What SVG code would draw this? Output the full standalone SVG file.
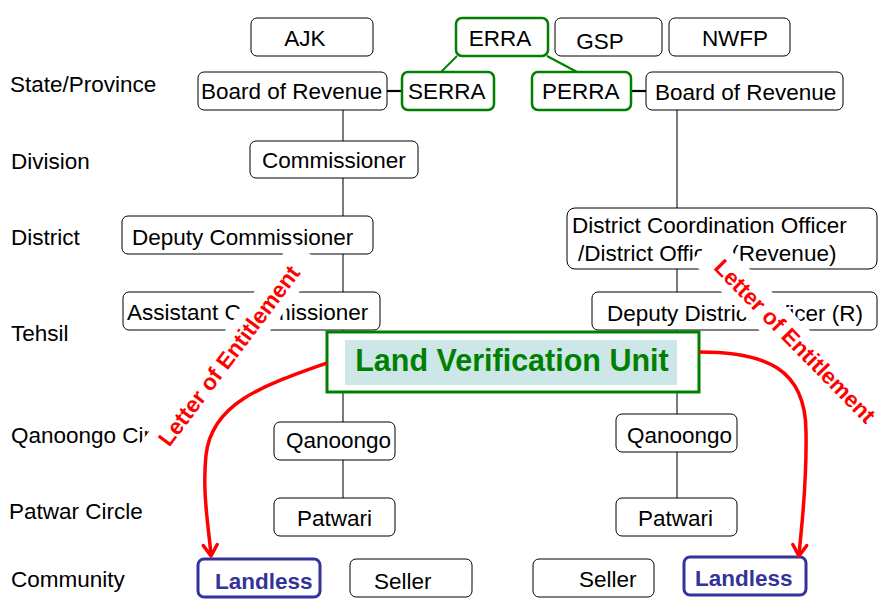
<svg xmlns="http://www.w3.org/2000/svg" width="883" height="603" viewBox="0 0 883 603">
  <defs>
    <style>
      .lvl { font-family: "Liberation Sans", Arial, sans-serif; font-size: 22.5px; fill: #000; }
      .box { fill: #fff; stroke: #000; stroke-width: 1; }
      .gbox { fill: #fff; stroke: #008000; stroke-width: 2.5; }
      .bbox { fill: #fff; stroke: #333399; stroke-width: 3; }
      .t { font-family: "Liberation Sans", Arial, sans-serif; font-size: 22.5px; fill: #000; }
      .tb { font-family: "Liberation Sans", Arial, sans-serif; font-size: 22.5px; font-weight: bold; fill: #333399; }
      .link { stroke: #222; stroke-width: 1.2; fill: none; }
      .tie { stroke: #000; stroke-width: 2.2; fill: none; }
      .gtie { stroke: #008000; stroke-width: 2; fill: none; }
      .red { stroke: #ff0000; stroke-width: 3.5; fill: none; }
      .loe { font-family: "Liberation Sans", Arial, sans-serif; font-size: 22.5px; font-weight: bold; fill: #ff0000; }
    </style>
    <marker id="vhead" markerUnits="userSpaceOnUse" markerWidth="30" markerHeight="30" viewBox="-15 -15 30 30" refX="0" refY="0" orient="auto">
      <path d="M-11,-7 L0,0 L-11,7" stroke="#ff0000" stroke-width="3.5" fill="none" stroke-linecap="round" stroke-linejoin="round"/>
    </marker>
  </defs>
  <rect width="883" height="603" fill="#fff"/>

  <!-- administrative level labels -->
  <g id="levels">
    <text class="lvl" x="10" y="92">State/Province</text>
    <text class="lvl" x="11" y="169">Division</text>
    <text class="lvl" x="11" y="245">District</text>
    <text class="lvl" x="11" y="341">Tehsil</text>
    <text class="lvl" x="11" y="443">Qanoongo Circle</text>
    <text class="lvl" x="9" y="519">Patwar Circle</text>
    <text class="lvl" x="11" y="587">Community</text>
  </g>

  <!-- hierarchy connectors -->
  <g id="connectors">
    <line class="link" x1="343" y1="110" x2="343" y2="498"/>
    <line class="link" x1="677" y1="110" x2="677" y2="498"/>
    <line class="tie" x1="387" y1="91" x2="402" y2="91"/>
    <line class="tie" x1="631" y1="91" x2="646" y2="91"/>
    <line class="gtie" x1="457" y1="56" x2="441" y2="72"/>
    <line class="gtie" x1="547" y1="56" x2="577" y2="72"/>
  </g>

  <g id="ajk"><rect class="box" x="251" y="18" width="122" height="38" rx="6"/><text class="t" x="305" y="46" text-anchor="middle">AJK</text></g>
  <g id="erra"><rect class="gbox" x="456" y="18" width="92" height="38" rx="6"/><text class="t" x="500" y="46" text-anchor="middle">ERRA</text></g>
  <g id="gsp"><rect class="box" x="555" y="18" width="107" height="38" rx="6"/><text class="t" x="600" y="49" text-anchor="middle">GSP</text></g>
  <g id="nwfp"><rect class="box" x="669" y="18" width="121" height="38" rx="6"/><text class="t" x="735" y="46" text-anchor="middle">NWFP</text></g>

  <g id="bor-left"><rect class="box" x="198" y="72" width="189" height="38" rx="6"/><text class="t" x="201" y="99">Board of Revenue</text></g>
  <g id="serra"><rect class="gbox" x="402" y="72" width="92" height="38" rx="6"/><text class="t" x="408" y="99">SERRA</text></g>
  <g id="perra"><rect class="gbox" x="532" y="72" width="99" height="38" rx="6"/><text class="t" x="542" y="99">PERRA</text></g>
  <g id="bor-right"><rect class="box" x="646" y="72" width="197" height="38" rx="6"/><text class="t" x="655" y="100">Board of Revenue</text></g>

  <g id="commissioner"><rect class="box" x="250" y="141" width="168" height="37" rx="6"/><text class="t" x="262" y="168">Commissioner</text></g>
  <g id="deputy-commissioner"><rect class="box" x="122" y="216" width="251" height="38" rx="6"/><text class="t" x="132" y="245">Deputy Commissioner</text></g>
  <g id="assistant-commissioner"><rect class="box" x="123" y="292" width="257" height="38" rx="6"/><text class="t" x="127" y="320">Assistant Commissioner</text></g>

  <g id="dco"><rect class="box" x="567" y="208" width="310" height="61" rx="8"/>
    <text class="t" x="572" y="233">District Coordination Officer</text>
    <text class="t" x="578" y="261">/District Officer (Revenue)</text></g>
  <g id="ddo"><rect class="box" x="592" y="292" width="285" height="38" rx="6"/><text class="t" x="607" y="321">Deputy District Officer (R)</text></g>

  <g id="qanoongo-left"><rect class="box" x="274" y="422" width="121" height="38" rx="6"/><text class="t" x="286" y="448">Qanoongo</text></g>
  <g id="qanoongo-right"><rect class="box" x="616" y="414" width="121" height="38" rx="6"/><text class="t" x="627" y="443">Qanoongo</text></g>
  <g id="patwari-left"><rect class="box" x="274" y="498" width="121" height="38" rx="6"/><text class="t" x="297" y="526">Patwari</text></g>
  <g id="patwari-right"><rect class="box" x="616" y="498" width="121" height="38" rx="6"/><text class="t" x="638" y="526">Patwari</text></g>

  <g id="landless-left"><rect class="bbox" x="198" y="559" width="122" height="38" rx="6"/><text class="tb" x="215" y="589">Landless</text></g>
  <g id="seller-left"><rect class="box" x="350" y="559" width="122" height="38" rx="6"/><text class="t" x="374" y="589">Seller</text></g>
  <g id="seller-right"><rect class="box" x="533" y="559" width="121" height="38" rx="6"/><text class="t" x="579" y="587">Seller</text></g>
  <g id="landless-right"><rect class="bbox" x="684" y="557" width="122" height="38" rx="6"/><text class="tb" x="695" y="586">Landless</text></g>

  <g id="land-verification-unit">
    <rect x="327" y="332" width="372" height="60" fill="#fff" stroke="#008000" stroke-width="3"/>
    <rect x="345" y="340" width="332" height="45" fill="#cde7e8"/>
    <text x="512" y="371" text-anchor="middle" font-family="Liberation Sans, Arial, sans-serif" font-size="30.5" font-weight="bold" fill="#008000">Land Verification Unit</text>
  </g>

  <!-- letters of entitlement issued to the landless -->
  <g id="entitlement-flow">
    <path class="red" d="M327,363 C265,385 212,402 206,455 C202,495 209,528 211,556" marker-end="url(#vhead)"/>
    <path class="red" d="M699,352 C765,352 806,368 806,432 C807,490 801,528 799,556" marker-end="url(#vhead)"/>
    <g transform="translate(230,354) rotate(-53)">
      <rect x="-134" y="-18" width="262" height="36" fill="#fff"/>
      <text class="loe" x="-2" y="8" text-anchor="middle">Letter of Entitlement</text>
    </g>
    <g transform="translate(795,341) rotate(45.5)">
      <rect x="-130" y="-18" width="258" height="36" fill="#fff"/>
      <text class="loe" x="0" y="8" text-anchor="middle">Letter of Entitlement</text>
    </g>
  </g>
</svg>
